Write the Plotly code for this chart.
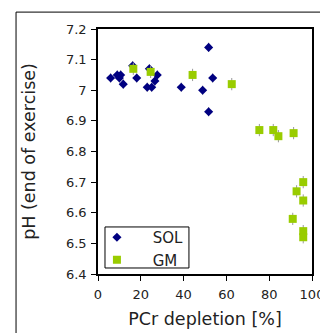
import plotly.graph_objects as go

sol_x = [5.9, 9.0, 10.6, 10.0, 11.8, 16.2, 18.1, 24.0, 23.0, 25.1, 26.6, 27.7, 38.9, 48.9, 51.7, 51.7, 53.6]
sol_ph = [7.04, 7.05, 7.05, 7.04, 7.02, 7.08, 7.04, 7.07, 7.01, 7.01, 7.03, 7.05, 7.01, 7.00, 7.14, 6.93, 7.04]

gm_x = [16.5, 24.6, 44.2, 62.5, 75.4, 81.9, 84.3, 91.4, 95.9, 92.8, 95.9, 91.0, 95.9, 95.9]
gm_ph = [7.07, 7.06, 7.05, 7.02, 6.87, 6.87, 6.85, 6.86, 6.70, 6.67, 6.64, 6.58, 6.54, 6.52]

x_ticks = [0, 20, 40, 60, 80, 100]
y_ticks = [6.4, 6.5, 6.6, 6.7, 6.8, 6.9, 7.0, 7.1, 7.2]
y_labels = ["6.4", "6.5", "6.6", "6.7", "6.8", "6.9", "7", "7.1", "7.2"]

FONT = "DejaVu Sans"
PAD = "\u00a0" * 3 + "\u200a"

fig = go.Figure()
fig.add_trace(go.Scatter(
    x=sol_x, y=sol_ph, mode="markers", name=PAD + "SOL",
    marker=dict(symbol="diamond", size=7, color="#000080"),
    error_y=dict(type="constant", value=0.015, color="#999999", thickness=1, width=0),
))
fig.add_trace(go.Scatter(
    x=gm_x, y=gm_ph, mode="markers", name=PAD + "GM",
    marker=dict(symbol="square", size=8, color="#99cc00"),
    error_y=dict(type="constant", value=0.02, color="#999999", thickness=1, width=0),
))

axis_common = dict(
    showline=True, linecolor="black", linewidth=1.5, mirror=True,
    ticks="outside", ticklen=5, tickwidth=1, tickcolor="black",
    showgrid=False, zeroline=False,
    tickfont=dict(family=FONT, size=13, color="#222222"),
)

fig.update_layout(
    width=328, height=333,
    margin=dict(l=90, r=24, t=21, b=67),
    paper_bgcolor="white", plot_bgcolor="white",
    font=dict(family=FONT, color="#222222"),
    xaxis=dict(range=[0, 100], tickvals=x_ticks, ticklabelstandoff=3,
               title=dict(text="PCr depletion [%]", font=dict(family=FONT, size=17.5), standoff=11),
               **axis_common),
    yaxis=dict(range=[6.4, 7.2], tickvals=y_ticks, ticktext=y_labels, ticklabelstandoff=2,
               title=dict(text="pH (end of exercise)", font=dict(family=FONT, size=17.5), standoff=26),
               **axis_common),
    legend=dict(x=-0.005, y=0.2163, xanchor="left", yanchor="top",
                borderwidth=0, bgcolor="rgba(0,0,0,0)",
                font=dict(family=FONT, size=15, color="#222222"),
                tracegroupgap=0, itemwidth=30),
    showlegend=True,
    shapes=[
        dict(type="rect", xref="paper", yref="paper",
             x0=-0.383, x1=1.2, y0=-0.5, y1=1.069,
             line=dict(color="black", width=1), fillcolor="rgba(0,0,0,0)", layer="below"),
        dict(type="rect", xref="paper", yref="paper",
             x0=0.0327, x1=0.425, y0=0.0245, y1=0.192,
             line=dict(color="black", width=1), fillcolor="white", layer="above"),
    ],
)

fig.write_html("out.html")
